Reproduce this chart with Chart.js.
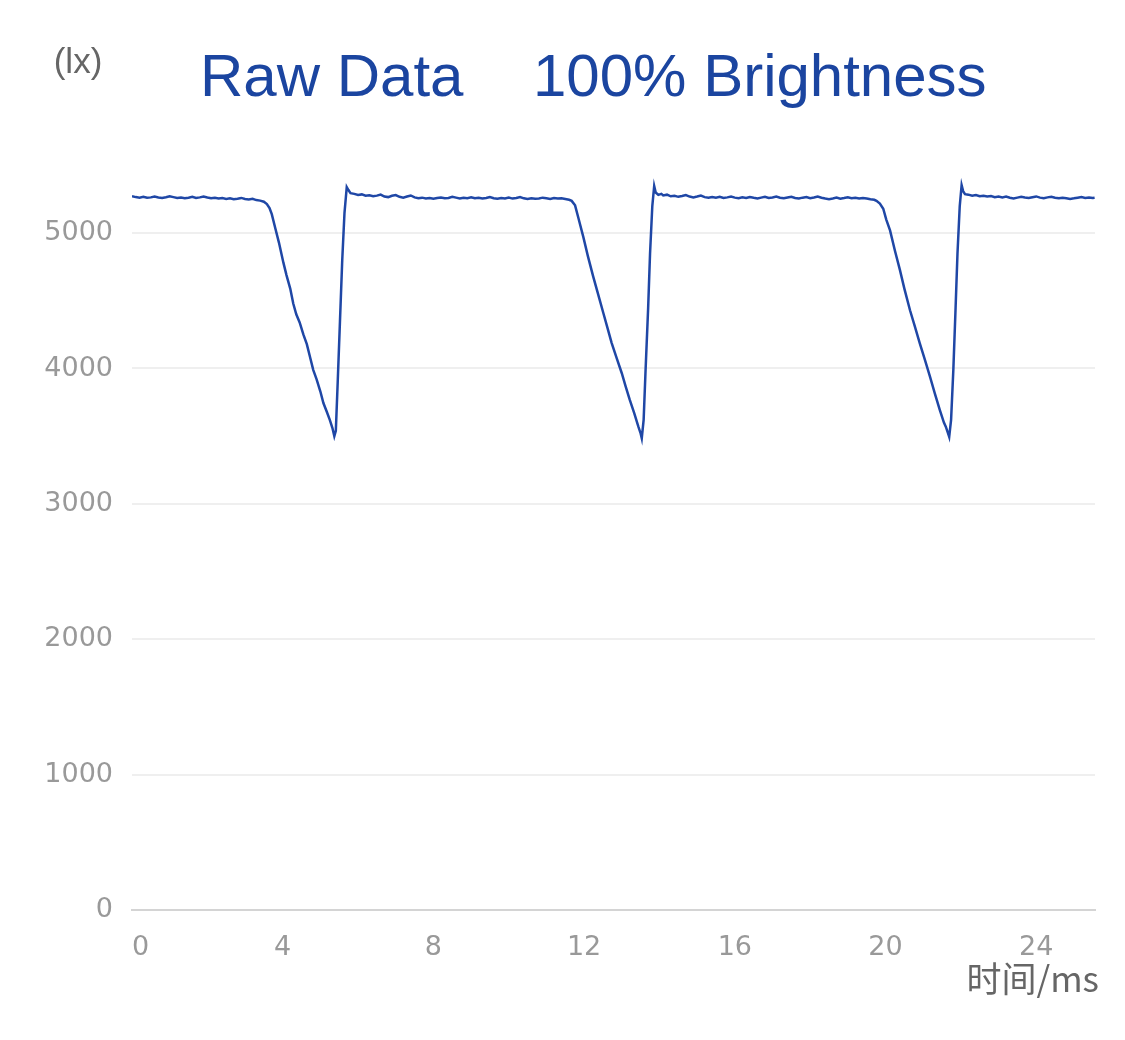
<!DOCTYPE html>
<html>
<head>
<meta charset="utf-8">
<script src="https://cdn.jsdelivr.net/npm/chart.js@4/dist/chart.umd.min.js"></script>
<style>
  body { margin: 0; background: #fff; }
  canvas { display: block; }
</style>
</head>
<body>
<canvas id="grafico-luz" width="1125" height="1040"></canvas>
<script>
/* DADOS */
const timeMs = [
  0.0, 0.1, 0.2, 0.3, 0.4, 0.5, 0.6, 0.7, 0.8, 0.9, 1.0, 1.1, 1.2, 1.3, 1.4, 1.5, 1.6, 1.7, 1.8, 1.9,
  2.0, 2.1, 2.2, 2.3, 2.4, 2.5, 2.6, 2.7, 2.8, 2.9, 3.0, 3.1, 3.2, 3.3, 3.4, 3.5,
  3.58, 3.65, 3.71, 3.80, 3.90, 4.02, 4.10, 4.20, 4.28, 4.36, 4.45, 4.55, 4.64, 4.72, 4.81, 4.90, 5.00,
  5.08, 5.17, 5.25, 5.32, 5.37, 5.41, 5.46, 5.52, 5.58, 5.64, 5.70, 5.74, 5.80, 5.9,
  6.0, 6.1, 6.2, 6.3, 6.4, 6.5, 6.6, 6.7, 6.8, 6.9, 7.0, 7.1, 7.2, 7.3, 7.4, 7.5, 7.6, 7.7, 7.8, 7.9,
  8.0, 8.1, 8.2, 8.3, 8.4, 8.5, 8.6, 8.7, 8.8, 8.9, 9.0, 9.1, 9.2, 9.3, 9.4, 9.5, 9.6, 9.7, 9.8, 9.9,
  10.0, 10.1, 10.2, 10.3, 10.4, 10.5, 10.6, 10.7, 10.8, 10.9, 11.0, 11.1, 11.2, 11.3, 11.4, 11.5, 11.6, 11.67,
  11.76, 11.85, 11.98, 12.10, 12.24, 12.36, 12.51, 12.62, 12.73, 12.86, 13.00, 13.10, 13.21, 13.33, 13.44,
  13.50, 13.53, 13.58, 13.63, 13.70, 13.75, 13.81, 13.86, 13.90, 13.97, 14.05,
  14.1, 14.2, 14.3, 14.4, 14.5, 14.6, 14.7, 14.8, 14.9, 15.0, 15.1, 15.2, 15.3, 15.4, 15.5, 15.6, 15.7, 15.8, 15.9,
  16.0, 16.1, 16.2, 16.3, 16.4, 16.5, 16.6, 16.7, 16.8, 16.9, 17.0, 17.1, 17.2, 17.3, 17.4, 17.5, 17.6, 17.7, 17.8, 17.9,
  18.0, 18.1, 18.2, 18.3, 18.4, 18.5, 18.6, 18.7, 18.8, 18.9, 19.0, 19.1, 19.2, 19.3, 19.4, 19.5, 19.6, 19.7, 19.76,
  19.85, 19.94, 20.02, 20.12, 20.25, 20.38, 20.50, 20.65, 20.78, 20.91, 21.05, 21.18, 21.31, 21.44, 21.55,
  21.60, 21.66, 21.69, 21.74, 21.80, 21.86, 21.91, 21.97, 22.02, 22.06, 22.11, 22.2,
  22.3, 22.4, 22.5, 22.6, 22.7, 22.8, 22.9, 23.0, 23.1, 23.2, 23.3, 23.4, 23.5, 23.6, 23.7, 23.8, 23.9,
  24.0, 24.1, 24.2, 24.3, 24.4, 24.5, 24.6, 24.7, 24.8, 24.9, 25.0, 25.1, 25.2, 25.3, 25.4, 25.5, 25.55
];
const lux = [
  5272, 5266, 5262, 5268, 5261, 5264, 5270, 5263, 5259, 5265, 5272, 5266, 5260, 5263, 5258, 5262, 5269, 5260, 5264, 5271,
  5263, 5257, 5261, 5255, 5259, 5253, 5257, 5250, 5254, 5260, 5252, 5248, 5253, 5244, 5240, 5232,
  5215, 5185, 5140, 5040, 4930, 4780, 4690, 4590, 4480, 4400, 4340, 4250, 4180, 4090, 3990, 3920, 3830,
  3745, 3680, 3620, 3560, 3500, 3540, 3900, 4350, 4800, 5150, 5340, 5320, 5295, 5290,
  5282, 5286, 5276, 5280, 5272, 5277, 5285, 5270, 5266, 5276, 5281, 5268, 5262, 5270, 5278, 5264, 5258, 5262, 5256, 5260,
  5254, 5259, 5263, 5257, 5260, 5268, 5262, 5256, 5261, 5258, 5264, 5257, 5261, 5255, 5259, 5266, 5258, 5254, 5260, 5256,
  5262, 5255, 5260, 5267, 5257, 5252, 5258, 5254, 5256, 5262, 5258, 5253, 5259, 5255, 5257, 5252, 5246, 5238,
  5205, 5110, 4970, 4830, 4680, 4560, 4410, 4300, 4190, 4080, 3965, 3870, 3770, 3670, 3570,
  3520, 3485, 3620, 3980, 4450, 4850, 5200, 5348, 5300, 5282, 5290,
  5278, 5284, 5272, 5276, 5268, 5274, 5281, 5270, 5264, 5270, 5277, 5266, 5261, 5267, 5262, 5268, 5259, 5264, 5270,
  5262, 5258, 5264, 5260, 5267, 5261, 5256, 5262, 5268, 5259, 5263, 5270, 5261, 5257, 5263, 5269, 5260, 5256, 5262, 5266,
  5258, 5263, 5270, 5261, 5255, 5251, 5256, 5262, 5254, 5259, 5265, 5257, 5261, 5256, 5260, 5255, 5250, 5246, 5238,
  5218, 5180, 5100, 5020, 4870, 4730, 4590, 4430, 4310, 4185, 4060, 3940, 3815, 3695, 3600,
  3570, 3520, 3495, 3620, 3990, 4450, 4850, 5200, 5354, 5310, 5288, 5284,
  5276, 5281, 5272, 5276, 5270, 5274, 5266, 5271, 5264, 5270, 5261, 5256, 5262, 5268, 5263, 5259, 5265,
  5271, 5262, 5258, 5264, 5268, 5261, 5257, 5262, 5258, 5253, 5257, 5262, 5266, 5260, 5263, 5259, 5261
];
const xTicks = [0, 4, 8, 12, 16, 20, 24];
const yTicks = [0, 1000, 2000, 3000, 4000, 5000];
const xMax = 25.56;
const yMax = 5710;

const pontos = timeMs.map((t, i) => ({ x: t, y: lux[i] }));

/* TEXTOS EXTRAS: título, unidade, rótulo do eixo x */
const textosExtras = {
    id: 'textosExtras',
    afterDraw(chart) {
        const ctx = chart.ctx;
        ctx.save();
        ctx.textBaseline = 'alphabetic';
        ctx.fillStyle = '#1b45a0';
        ctx.font = '60px "Liberation Sans", Arial, sans-serif';
        ctx.textAlign = 'left';
        ctx.fillText('Raw Data', 200, 96);
        ctx.fillText('100% Brightness', 533, 96);

        ctx.fillStyle = '#666666';
        ctx.font = '35px "Liberation Sans", Arial, sans-serif';
        ctx.textAlign = 'center';
        ctx.fillText('(lx)', 78, 73);

        ctx.font = '35px "Noto Sans CJK SC", sans-serif';
        ctx.textAlign = 'right';
        ctx.fillText('时间/ms', 1099, 992);
        ctx.restore();
    }
};

new Chart(document.getElementById('grafico-luz'), {
    type: 'line',
    data: {
        datasets: [{
            data: pontos,
            borderColor: '#1f47a6',
            borderWidth: 2.5,
            pointRadius: 0,
            tension: 0,
            fill: false
        }]
    },
    options: {
        responsive: false,
        animation: false,
        devicePixelRatio: 1,
        layout: { padding: { top: 137, right: 30, bottom: 0, left: 0 } },
        plugins: {
            legend: { display: false },
            title: { display: false },
            tooltip: { enabled: false }
        },
        scales: {
            x: {
                type: 'linear',
                min: 0,
                max: xMax,
                afterBuildTicks(scale) {
                    scale.ticks = xTicks.concat([xMax]).map(v => ({ value: v }));
                },
                afterFit(scale) { scale.height = 130; },
                grid: { display: false },
                border: { display: true, color: '#d4d4d4', width: 2 },
                ticks: {
                    align: 'inner',
                    padding: 14,
                    maxRotation: 0,
                    autoSkip: false,
                    color: '#999999',
                    font: { family: '"DejaVu Sans", sans-serif', size: 27 },
                    callback: v => (xTicks.includes(v) ? String(v) : '')
                }
            },
            y: {
                min: 0,
                max: yMax,
                afterBuildTicks(scale) {
                    scale.ticks = yTicks.map(v => ({ value: v }));
                },
                afterFit(scale) { scale.width = 132; },
                grid: { color: '#efefef', lineWidth: 2, drawTicks: false },
                border: { display: false },
                ticks: {
                    padding: 19,
                    color: '#999999',
                    font: { family: '"DejaVu Sans", sans-serif', size: 27 },
                    callback: v => String(v)
                }
            }
        }
    },
    plugins: [textosExtras]
});
</script>
</body>
</html>
